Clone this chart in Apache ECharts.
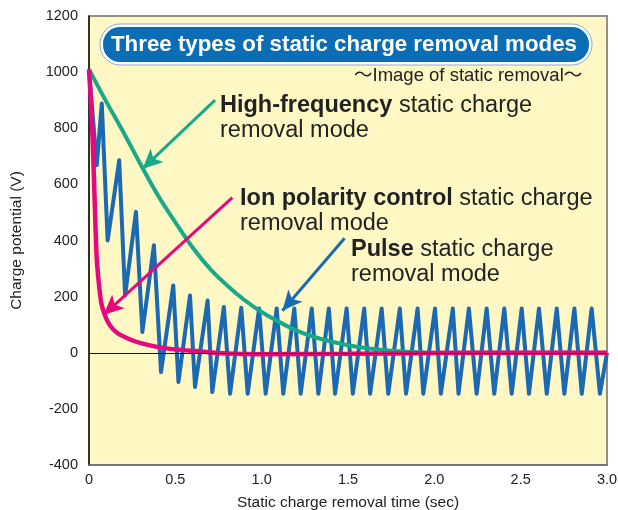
<!DOCTYPE html>
<html>
<head>
    <meta charset="utf-8" />
    <title>Static charge removal modes</title>
    <script src="https://cdn.jsdelivr.net/npm/echarts@6.0.0/dist/echarts.min.js"></script>
</head>
<body style="margin:0;background:#fff;">
    <div id="main" style="width:618px;height:510px;"></div>
    <script type="text/javascript">
        // pulse mode (zigzag)
        var pulseTime = [0, 0.045, 0.074, 0.108, 0.175, 0.209, 0.272, 0.309, 0.376, 0.417, 0.488, 0.518,
            0.585, 0.614, 0.687, 0.714, 0.781, 0.817, 0.882, 0.919, 0.985, 1.023, 1.087, 1.125,
            1.189, 1.226, 1.29, 1.328, 1.389, 1.425, 1.492, 1.528, 1.594, 1.628, 1.695, 1.733,
            1.8, 1.836, 1.903, 1.936, 2.004, 2.038, 2.107, 2.14, 2.2, 2.245, 2.303, 2.347,
            2.405, 2.448, 2.506, 2.548, 2.606, 2.651, 2.709, 2.753, 2.811, 2.854, 2.911, 2.959, 3.0];
        var pulseVolt = [1010, 668, 888, 400, 686, 204, 502, 74, 383, -69, 240, -104,
            204, -122, 186, -140, 163, -146, 160, -146, 158, -146, 158, -146,
            158, -146, 158, -146, 158, -146, 158, -146, 158, -146, 158, -146,
            158, -146, 158, -146, 158, -146, 158, -146, 158, -146, 158, -146,
            158, -146, 158, -146, 158, -146, 158, -146, 158, -146, 158, -146, 0];

        // high-frequency mode
        var hfTime = [0, 0.1, 0.2, 0.3, 0.4, 0.5, 0.6, 0.7, 0.8, 0.9, 1.0, 1.1, 1.2, 1.3, 1.4, 1.5, 1.6, 1.7, 1.8, 1.9, 2.0, 2.5, 3.0];
        var hfVolt = [1010, 895, 785, 670, 560, 465, 375, 300, 240, 188, 145, 110, 80, 57, 40, 27, 17, 10, 5, 2, 0, 0, 0];

        // ion polarity control mode
        var ionTime = [0, 0.015, 0.025, 0.035, 0.045, 0.06, 0.074, 0.1, 0.122, 0.16, 0.228, 0.3, 0.401, 0.5, 0.614, 0.8, 1.0, 1.5, 2.0, 2.5, 3.0];
        var ionVolt = [1010, 850, 692, 500, 335, 230, 169, 122, 97, 72, 50, 34, 20, 12, 6, -3, -5, -4, -1, 0, 0];

        var xTicks = ['0', '0.5', '1.0', '1.5', '2.0', '2.5', '3.0'];

        function pairs(xs, ys) {
            return xs.map(function (x, i) { return [x, ys[i]]; });
        }

        var myChart = echarts.init(document.getElementById('main'));
        var font = '"Liberation Sans", Arial, sans-serif';
        var noteFont = '23.5px "Liberation Sans", Arial, sans-serif';
        var noteRich = { b: { fontWeight: 'bold', fontSize: 23.5, fontFamily: font, fill: '#222', lineHeight: 25 } };

        var option = {
            animation: false,
            backgroundColor: '#ffffff',
            grid: {
                left: 89, right: 11, top: 16, bottom: 45,
                containLabel: false,
                outerBoundsMode: 'none',
                show: true,
                backgroundColor: '#fff8c4',
                borderColor: '#6e6e6e',
                borderWidth: 1.5
            },
            xAxis: {
                type: 'value',
                min: 0, max: 3, interval: 0.5,
                name: 'Static charge removal time (sec)',
                nameLocation: 'middle',
                nameGap: 30,
                nameTextStyle: { fontFamily: font, fontSize: 15.5, color: '#222' },
                axisLine: { onZero: false, lineStyle: { color: '#6e6e6e', width: 1.5 } },
                axisTick: { show: false },
                splitLine: { show: false },
                axisLabel: {
                    fontFamily: font, fontSize: 14.5, color: '#222', margin: 7,
                    formatter: function (v) { return xTicks[Math.round(v / 0.5)]; }
                }
            },
            yAxis: {
                type: 'value',
                min: -400, max: 1200, interval: 200,
                name: 'Charge potential (V)',
                nameLocation: 'middle',
                nameGap: 64,
                nameTextStyle: { fontFamily: font, fontSize: 15.5, color: '#222' },
                axisLine: { onZero: false, lineStyle: { color: '#111', width: 1.5 } },
                axisTick: { show: false },
                splitLine: { show: false },
                axisLabel: {
                    fontFamily: font, fontSize: 14.5, color: '#222', margin: 11,
                    formatter: function (v) { return String(v); }
                }
            },
            series: [
                {
                    name: 'Pulse',
                    type: 'line',
                    showSymbol: false,
                    data: pairs(pulseTime, pulseVolt),
                    lineStyle: { color: '#1b68b3', width: 4, join: 'round' },
                    z: 2,
                    markLine: {
                        silent: true,
                        symbol: 'none',
                        label: { show: false },
                        lineStyle: { color: '#111', width: 1, type: 'solid' },
                        data: [{ yAxis: 0 }]
                    }
                },
                {
                    name: 'High-frequency',
                    type: 'line',
                    showSymbol: false,
                    smooth: 0.4,
                    data: pairs(hfTime, hfVolt),
                    lineStyle: { color: '#18a98a', width: 4 },
                    z: 3
                },
                {
                    name: 'Ion polarity control',
                    type: 'line',
                    showSymbol: false,
                    smooth: 0.3,
                    data: pairs(ionTime, ionVolt),
                    lineStyle: { color: '#e5097f', width: 4.5 },
                    z: 4
                },
                {
                    // annotation arrows
                    type: 'line',
                    data: [],
                    markLine: {
                        silent: true,
                        symbol: ['none', 'arrow'],
                        symbolSize: [14, 20],
                        label: { show: false },
                        data: [
                            [{ coord: [0.73, 900], lineStyle: { color: '#18a98a', width: 3, type: 'solid' } }, { coord: [0.31, 655] }],
                            [{ coord: [0.83, 553], lineStyle: { color: '#e5097f', width: 3, type: 'solid' } }, { coord: [0.085, 135] }],
                            [{ coord: [1.48, 408], lineStyle: { color: '#1b68b3', width: 3, type: 'solid' } }, { coord: [1.12, 150] }]
                        ]
                    },
                    z: 5
                }
            ],
            graphic: [
                {
                    type: 'rect',
                    shape: { x: 100, y: 24, width: 492, height: 41, r: 20 },
                    style: { fill: '#ffffff', stroke: '#86aed3', lineWidth: 1 },
                    z: 10
                },
                {
                    type: 'rect',
                    shape: { x: 103, y: 27, width: 486, height: 35, r: 17 },
                    style: { fill: '#0a6db6' },
                    z: 11
                },
                {
                    type: 'text',
                    left: 111, top: 34,
                    style: {
                        text: 'Three types of static charge removal modes',
                        fill: '#ffffff',
                        font: 'bold 22.3px "Liberation Sans", Arial, sans-serif'
                    },
                    z: 12
                },
                {
                    type: 'text',
                    left: 354, top: 67,
                    style: {
                        text: '〜Image of static removal〜',
                        fill: '#222',
                        font: '18.5px "Liberation Sans", "Noto Sans CJK JP", sans-serif'
                    },
                    z: 12
                },
                {
                    type: 'text',
                    left: 220, top: 93,
                    style: {
                        text: '{b|High-frequency} static charge\nremoval mode',
                        fill: '#222', font: noteFont, lineHeight: 25, rich: noteRich
                    },
                    z: 12
                },
                {
                    type: 'text',
                    left: 240, top: 186,
                    style: {
                        text: '{b|Ion polarity control} static charge\nremoval mode',
                        fill: '#222', font: noteFont, lineHeight: 25, rich: noteRich
                    },
                    z: 12
                },
                {
                    type: 'text',
                    left: 351, top: 237,
                    style: {
                        text: '{b|Pulse} static charge\nremoval mode',
                        fill: '#222', font: noteFont, lineHeight: 25, rich: noteRich
                    },
                    z: 12
                }
            ]
        };
        myChart.setOption(option);
    </script>
</body>
</html>
